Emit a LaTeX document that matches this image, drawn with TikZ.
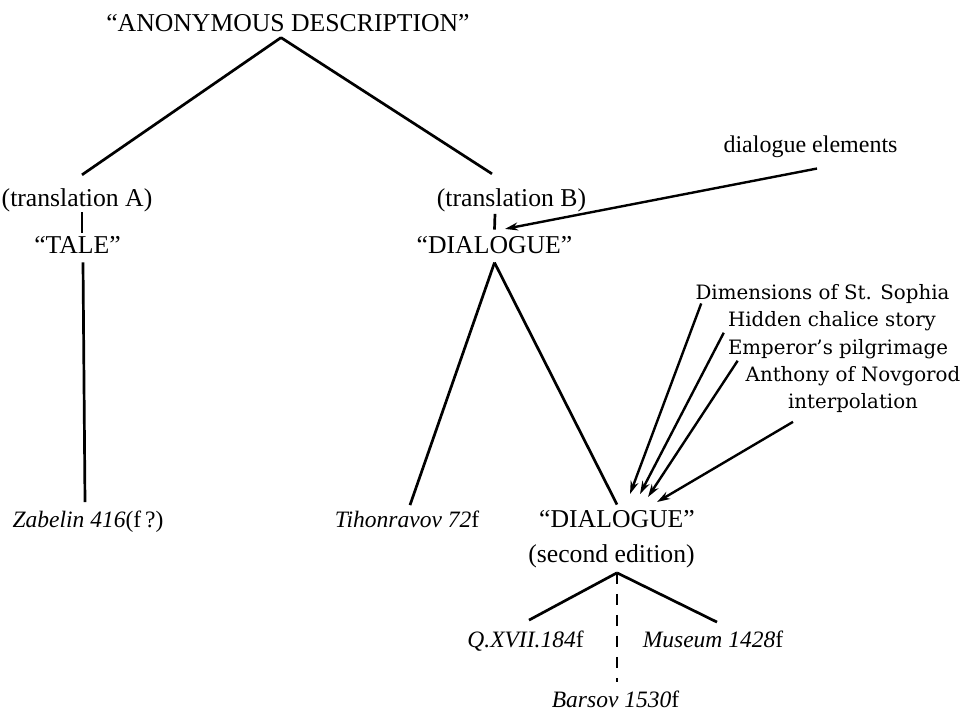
\documentclass[tikz,border=0pt]{standalone}
\usepackage{fontspec}
\usepackage{tikz}
\usetikzlibrary{arrows.meta}
\newfontfamily\timesrm[Ligatures=TeX]{Liberation Serif}
\newfontfamily\addfont[Ligatures=TeX]{DejaVu Serif}

\begin{document}
\begin{tikzpicture}[
  x=1pt, y=-1pt, line width=2.7pt,
  lbl/.style={font=\timesrm\fontsize{25.7}{35}\selectfont,inner xsep=1pt,inner ysep=4pt,anchor=base},
  ms/.style={font=\timesrm\fontsize{23.5}{30}\selectfont,inner xsep=1pt,inner ysep=4pt,anchor=base},
  addn/.style={font=\addfont\fontsize{19.8}{27}\selectfont,inner sep=1pt,anchor=base},
  feed/.style={line width=2.4pt,-{Stealth[length=13pt,width=8pt]}}
]
  \useasboundingbox (0,0) rectangle (966,711);
  \node[lbl] (anon) at (288,32) {“ANONYMOUS DESCRIPTION”};
  \node[lbl] (transA) at (77,207) {(translation A)};
  \node[lbl] (transB) at (511.5,207) {(translation B)};
  \node[lbl,font=\timesrm\fontsize{24}{30}\selectfont] (dlg) at (810.5,153) {dialogue elements};
  \node[lbl] (tale) at (77.5,254) {“TALE”};
  \node[lbl] (dia1) at (494.5,254) {“DIALOGUE”};
  \node[addn] (dim) at (822.5,299) {Dimensions of St. Sophia};
  \node[addn] (chal) at (832,326) {Hidden chalice story};
  \node[addn] (emp) at (838,354) {Emperor’s pilgrimage};
  \node[addn,anchor=north,align=center] (anth) at (853,364) {Anthony of Novgorod\\interpolation};
  \node[ms] (zab) at (88,527) {\textit{Zabelin 416}(f\,?)};
  \node[ms] (tih) at (407,527) {\textit{Tihonravov 72}f};
  \node[lbl] (dia2) at (617,527) {“DIALOGUE”};
  \node[lbl] (sec) at (611.5,562) {(second edition)};
  \node[ms] (q) at (525.5,647) {\textit{Q.XVII.184}f};
  \node[ms] (mus) at (713,647) {\textit{Museum 1428}f};
  \node[ms] (bar) at (615.5,707) {\textit{Barsov 1530}f};
  \draw ([xshift=-7pt]anon.south) -- ([xshift=5pt,yshift=9pt]transA.north);
  \draw ([xshift=-7pt]anon.south) -- ([xshift=-19.5pt,yshift=10pt]transB.north);
  \draw ([xshift=5pt,yshift=5.5pt]transA.south) -- ([xshift=4.5pt,yshift=-1.5pt]tale.north);
  \draw ([xshift=-16.5pt,yshift=4pt]transB.south) -- ([yshift=2pt]dia1.north);
  \draw ([xshift=5.5pt,yshift=-3pt]tale.south) -- ([xshift=-3pt,yshift=3pt]zab.north);
  \draw ([yshift=-3pt]dia1.south) -- ([xshift=3pt]tih.north);
  \draw ([yshift=-3pt]dia1.south) -- (dia2.north);
  \draw ([xshift=5.5pt]sec.south) -- ([xshift=3.5pt,yshift=5pt]q.north);
  \draw ([xshift=5.5pt]sec.south) -- ([xshift=4pt,yshift=3pt]mus.north);
  \draw[line width=2.4pt,dash pattern=on 11pt off 10pt] ([xshift=5.5pt]sec.south) -- ([xshift=1.5pt,yshift=3pt]bar.north);
  \draw[feed] ([xshift=6.5pt,yshift=-5pt]dlg.south) -- ([xshift=10.5pt,yshift=2.6pt]dia1.north);
  \draw[feed] ([xshift=8pt,yshift=2pt]dim.south west) -- ([xshift=13pt,yshift=10.5pt]dia2.north);
  \draw[feed] ([xshift=-2pt]chal.south west) -- ([xshift=23pt,yshift=10.5pt]dia2.north);
  \draw[feed] ([xshift=12pt]emp.south west) -- ([xshift=31pt,yshift=7.5pt]dia2.north);
  \draw[feed] ([xshift=-60pt,yshift=-7pt]anth.south) -- ([xshift=40pt,yshift=2.5pt]dia2.north);
\end{tikzpicture}
\end{document}
